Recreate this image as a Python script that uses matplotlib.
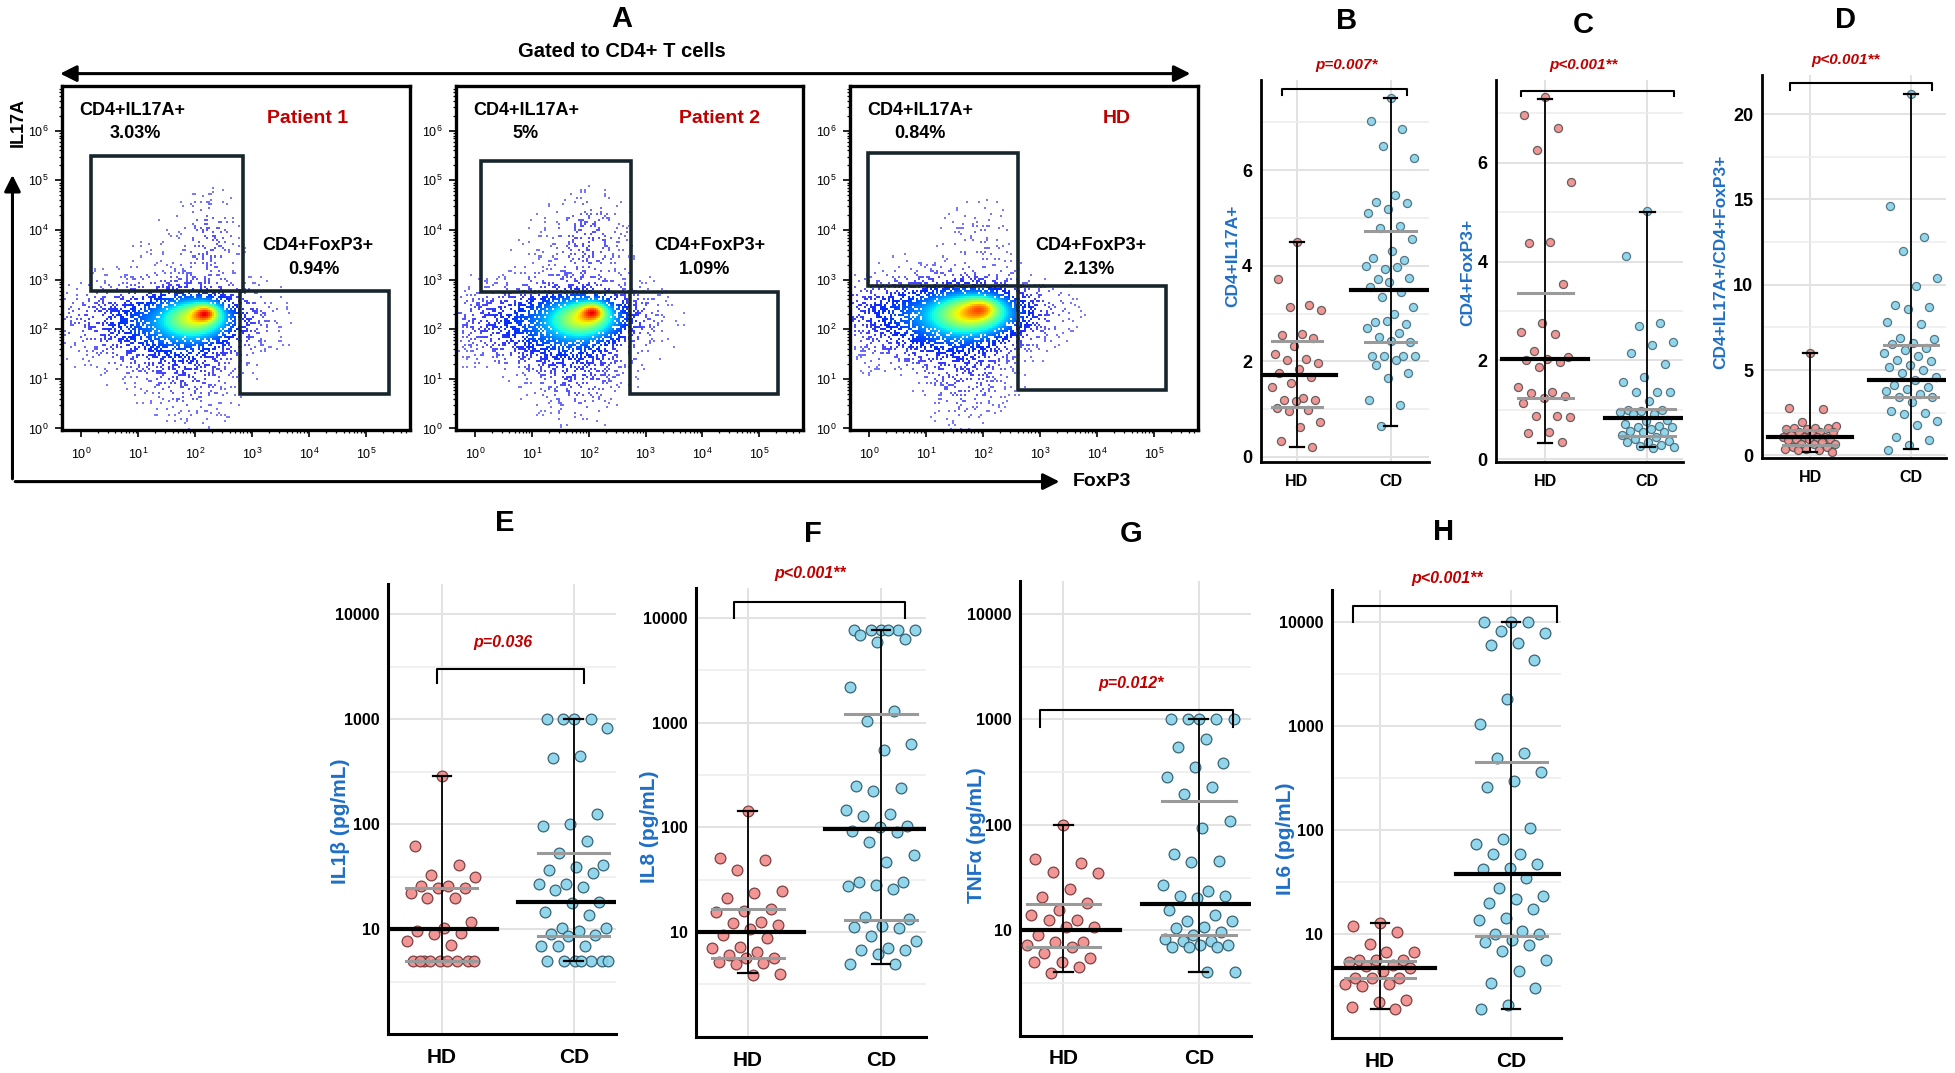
import numpy as np
import matplotlib
matplotlib.use("Agg")
import matplotlib.pyplot as plt
from matplotlib import font_manager
from matplotlib.patches import FancyArrowPatch, Rectangle
from matplotlib.ticker import NullFormatter

# ---------------------------------------------------------------- data
flow_names = ["Patient 1", "Patient 2", "HD"]
il17a_pct = ["3.03%", "5%", "0.84%"]
foxp3_pct = ["0.94%", "1.09%", "2.13%"]
# gates in log10 units (x0, x1, y0, y1)
il17a_gates = [(0.18, 2.83, 2.78, 5.50), (0.11, 2.74, 2.75, 5.40), (-0.02, 2.61, 2.88, 5.55)]
foxp3_gates = [(2.79, 5.39, 0.70, 2.78), (2.72, 5.33, 0.70, 2.75), (2.61, 5.20, 0.78, 2.88)]
# cell-cloud density components in log10 units (cx, cy, sx, sy, weight)
cloud_patient1 = [(2.20, 2.32, 0.15, 0.12, 0.35), (2.05, 2.22, 0.42, 0.28, 0.55),
                  (1.55, 2.05, 0.80, 0.50, 0.30), (1.90, 1.10, 0.45, 0.55, 0.08),
                  (0.50, 2.25, 0.60, 0.30, 0.05), (2.25, 3.80, 0.28, 0.50, 0.07),
                  (1.50, 3.70, 0.60, 0.50, 0.010), (3.00, 2.40, 0.35, 0.30, 0.02)]
cloud_patient2 = [(2.08, 2.35, 0.15, 0.12, 0.35), (1.95, 2.22, 0.42, 0.28, 0.55),
                  (1.45, 2.05, 0.80, 0.50, 0.30), (1.80, 1.10, 0.45, 0.55, 0.08),
                  (0.30, 2.25, 0.60, 0.30, 0.05), (2.00, 3.80, 0.38, 0.50, 0.08),
                  (1.30, 3.70, 0.60, 0.50, 0.010), (2.90, 2.40, 0.35, 0.30, 0.02)]
cloud_hd = [(2.00, 2.43, 0.20, 0.14, 0.20), (1.85, 2.32, 0.50, 0.30, 0.60),
            (1.30, 2.15, 0.85, 0.48, 0.32), (1.70, 1.10, 0.45, 0.55, 0.08),
            (0.20, 2.45, 0.60, 0.30, 0.07), (2.00, 3.80, 0.35, 0.50, 0.025),
            (1.50, 3.70, 0.60, 0.50, 0.006), (2.90, 2.40, 0.40, 0.30, 0.04)]
cloud_peak_colour = [0.80, 0.80, 0.72]
flow_x_ticks = [0, 1, 2, 3, 4, 5]
flow_y_ticks = [0, 1, 2, 3, 4, 5, 6]

groups = ["HD", "CD"]

b_hd = [4.50, 3.72, 3.18, 3.13, 3.07, 2.57, 2.54, 2.48, 2.32, 2.16, 2.04, 2.03, 1.97, 1.83,
        1.76, 1.67, 1.54, 1.47, 1.24, 1.20, 1.18, 1.16, 1.02, 0.98, 0.95, 0.72, 0.62, 0.34, 0.21]
b_cd = [7.51, 7.02, 6.86, 6.50, 6.26, 5.49, 5.33, 5.31, 5.19, 5.10, 4.84, 4.78, 4.56, 4.30,
        4.17, 4.11, 3.94, 4.00, 3.98, 3.73, 3.75, 3.66, 3.56, 3.44, 3.34, 3.13, 2.99, 2.82,
        2.78, 2.85, 2.69, 2.60, 2.50, 2.40, 2.42, 2.11, 2.12, 2.12, 2.11, 2.03, 1.92, 1.76,
        1.66, 1.19, 1.09, 0.65]
c_hd = [7.34, 6.96, 6.71, 6.26, 5.61, 4.39, 4.37, 3.55, 2.76, 2.57, 2.53, 2.18, 2.06, 2.03,
        2.00, 1.96, 1.86, 1.47, 1.37, 1.33, 1.27, 1.23, 1.13, 0.88, 0.87, 0.86, 0.55, 0.52, 0.35]
c_cd = [5.03, 4.12, 2.76, 2.70, 2.38, 2.31, 2.14, 1.92, 1.67, 1.57, 1.35, 1.35, 1.35, 1.18,
        1.00, 1.00, 0.98, 0.96, 0.92, 0.92, 0.80, 0.78, 0.71, 0.68, 0.65, 0.65, 0.62, 0.57,
        0.55, 0.55, 0.48, 0.45, 0.41, 0.37, 0.34, 0.34, 0.29, 0.27, 0.25, 0.22]
d_hd = [6.0, 2.75, 2.7, 1.95, 1.7, 1.6, 1.6, 1.6, 1.56, 1.56, 1.37, 1.37, 1.37, 1.27, 1.17,
        1.08, 1.08, 1.08, 1.08, 0.98, 0.98, 0.98, 0.88, 0.78, 0.68, 0.68, 0.68, 0.49, 0.49,
        0.39, 0.39, 0.29, 0.29, 0.2]
d_cd = [21.2, 14.6, 12.8, 12.0, 10.4, 9.9, 8.8, 8.7, 8.6, 7.8, 7.7, 6.9, 6.8, 6.6, 6.5, 6.3,
        6.2, 6.0, 5.8, 5.6, 5.5, 5.3, 5.2, 5.0, 4.8, 4.6, 4.4, 4.1, 4.0, 3.9, 3.8, 3.6, 3.4,
        3.4, 3.1, 2.6, 2.5, 2.4, 2.0, 1.8, 1.06, 0.9, 0.6, 0.3]
e_hd = [286, 62, 40.6, 33, 31.5, 26, 26, 25, 24.5, 22, 20, 19.7, 11.7, 10.4, 9.7, 9.3, 9.0,
        7.8, 7.1, 5, 5, 5, 5, 5, 5, 5, 5, 5]
e_cd = [1000, 1000, 1000, 1000, 828, 445, 430, 126, 100, 97, 70, 53, 41, 39, 37, 34.6, 27.3,
        27, 25.3, 23.7, 18.4, 17.9, 14.6, 13.8, 10.4, 10.4, 9.7, 9.1, 8.8, 8.6, 7.0, 6.9, 6.9,
        5, 5, 5, 5, 5, 5, 5]
f_hd = [143, 51, 49, 39.5, 24.9, 23.4, 21, 16.7, 15.9, 15.6, 12.4, 12.1, 11.6, 10.7, 9.4,
        8.8, 7.2, 7.1, 6.5, 6.1, 5.7, 5.7, 5.2, 5.1, 5.0, 4.0, 3.9]
f_cd = [7700, 7700, 7700, 7700, 7700, 7700, 6900, 6300, 5900, 2170, 1280, 1035, 630, 550,
        249, 237, 223, 146, 134, 129, 104, 100, 92, 90, 73, 54, 47, 30, 30, 28, 27.5, 26, 14,
        13.2, 11.5, 11.3, 11, 9.2, 8.3, 7.0, 6.7, 6.7, 6.2, 5.0, 5.0]
g_hd = [100, 47, 43, 36, 35, 24.8, 20.6, 18, 15.7, 13.9, 12.6, 12.6, 10.7, 10.7, 9.1, 7.8,
        7.8, 7.3, 7.0, 6.1, 5.4, 5.0, 5.0, 4.5, 3.9]
g_cd = [1000, 1000, 1000, 1000, 1000, 656, 545, 385, 357, 283, 230, 195, 109, 93, 52.5, 45,
        44, 27, 23.7, 21, 21, 20.2, 15.5, 13.9, 12.3, 12.3, 10.7, 10.5, 9.7, 9.1, 8.3, 7.9,
        7.9, 7.3, 7.2, 6.9, 6.9, 6.9, 4.0, 4.0]
h_hd = [12.7, 12.1, 10.5, 8.1, 6.8, 6.8, 5.7, 5.7, 5.6, 5.4, 5.0, 4.9, 4.7, 4.4, 3.8, 3.8,
        3.8, 3.3, 3.3, 3.2, 2.3, 2.2, 2.0, 1.9]
h_cd = [10000, 10000, 10000, 8260, 7870, 6300, 6000, 4310, 1820, 1060, 553, 493, 360, 297,
        262, 106, 82, 74, 59, 59, 47, 43, 42, 34.6, 28, 23.2, 21.9, 19.9, 17.4, 14.4, 13.7,
        10.8, 10, 10, 8.7, 8.4, 7.9, 6.9, 5.6, 4.4, 3.4, 3.0, 2.1, 1.9]

# summary lines: median, lower grey, upper grey, whisker low, whisker high
b_hd_stats = [1.72, 1.05, 2.42, 0.20, 4.50]
b_cd_stats = [3.50, 2.40, 4.72, 0.65, 7.50]
c_hd_stats = [2.02, 1.24, 3.36, 0.33, 7.30]
c_cd_stats = [0.84, 0.47, 1.02, 0.24, 5.00]
d_hd_stats = [1.08, 0.60, 1.50, 0.20, 6.00]
d_cd_stats = [4.40, 3.40, 6.45, 0.35, 21.2]
e_hd_stats = [10.0, 5.0, 24.9, 5.0, 286]
e_cd_stats = [18.2, 8.6, 53.0, 5.0, 1000]
f_hd_stats = [10.0, 5.7, 16.6, 4.1, 143]
f_cd_stats = [96.0, 13.0, 1200, 5.0, 7700]
g_hd_stats = [10.0, 6.9, 17.9, 4.0, 100]
g_cd_stats = [17.9, 9.0, 169, 4.0, 1000]
h_hd_stats = [4.7, 3.8, 5.5, 1.9, 12.7]
h_cd_stats = [38.0, 9.5, 457, 1.9, 10000]

p_values = ["p=0.007*", "p<0.001**", "p<0.001**", "p=0.036", "p<0.001**", "p=0.012*", "p<0.001**"]
y_titles = ["CD4+IL17A+", "CD4+FoxP3+", "CD4+IL17A+/CD4+FoxP3+",
            "IL1β (pg/mL)", "IL8 (pg/mL)", "TNFα (pg/mL)", "IL6 (pg/mL)"]
lin_ticks_bc = [0, 2, 4, 6]
lin_ticks_d = [0, 5, 10, 15, 20]
log_ticks = [10, 100, 1000, 10000]
log_tick_labels = ["10", "100", "1000", "10000"]

# ---------------------------------------------------------------- style / layout
names = {f.name for f in font_manager.fontManager.ttflist}
BASE = "Liberation Sans" if "Liberation Sans" in names else "DejaVu Sans"
plt.rcParams["font.family"] = [BASE, "DejaVu Sans"]
plt.rcParams["mathtext.fontset"] = "custom"
plt.rcParams["mathtext.rm"] = BASE

RED = "#c00000"
LBLUE = "#1f6fc5"
PW, PH = 1568.0, 860.0


def fx(x):
    return x / PW


def fy(y):
    return 1 - y / PH


def box(l, r, t, b):
    return [l / PW, 1 - b / PH, (r - l) / PW, (b - t) / PH]


fig = plt.figure(figsize=(19.55, 10.73), dpi=100)
fig.patch.set_facecolor("white")


def farrow(p0, p1, style):
    a = FancyArrowPatch((fx(p0[0]), fy(p0[1])), (fx(p1[0]), fy(p1[1])),
                        transform=fig.transFigure, arrowstyle=style,
                        mutation_scale=14, lw=2.2, color="black")
    fig.add_artist(a)


# ---------------------------------------------------------------- panel A
fig.text(fx(499), fy(15), "A", ha="center", va="center", fontsize=21, fontweight="bold")
fig.text(fx(499), fy(41), "Gated to CD4+ T cells", ha="center", va="center",
         fontsize=14.5, fontweight="bold")
farrow((46, 59), (957, 59), "<|-|>,head_length=0.7,head_width=0.35")
farrow((10, 386), (10, 138), "-|>,head_length=0.7,head_width=0.35")
farrow((10, 386), (852, 386), "-|>,head_length=0.7,head_width=0.35")
fig.text(fx(15), fy(98), "IL17A", ha="center", va="center", rotation=90,
         fontsize=13, fontweight="bold")
fig.text(fx(884), fy(386), "FoxP3", ha="center", va="center", fontsize=14, fontweight="bold")

flow_boxes = [(50, 329), (366, 644), (682, 961)]
flow_clouds = [cloud_patient1, cloud_patient2, cloud_hd]
title_x = [0.706, 0.76, 0.767]
pct_x = [0.21, 0.20, 0.20]
fox_x = [0.735, 0.73, 0.69]
foxpct_x = [0.724, 0.717, 0.685]
XL, YL = (-0.33, 5.77), (-0.04, 6.9)

for k in range(3):
    l, r = flow_boxes[k]
    ax = fig.add_axes(box(l, r, 69, 345))
    nx, ny = 174, 172
    xs = np.linspace(XL[0], XL[1], nx)
    ys = np.linspace(YL[0], YL[1], ny)
    X, Y = np.meshgrid(xs, ys)
    D = np.zeros_like(X)
    for cx, cy, sx, sy, w in flow_clouds[k]:
        D += w * np.exp(-0.5 * (((X - cx) / sx) ** 2 + ((Y - cy) / sy) ** 2))
    D /= D.max()
    I, J = np.meshgrid(np.arange(nx), np.arange(ny))
    # deterministic hash dither pattern (texture only)
    thr = np.mod(np.sin(I * 12.9898 + J * 78.233 + k * 3.1) * 43758.5453, 1.0)
    prob = np.clip(D / 0.5, 0, 1) ** 0.8
    on = (prob > thr) & (D > 0.006)
    col = plt.get_cmap("jet")(0.11 + cloud_peak_colour[k] * D ** 1.6)
    alpha = 0.5 + 0.5 * np.clip(D / 0.2, 0, 1)
    col[..., 3] = np.where(on, alpha, 0.0)
    ax.imshow(col, extent=(XL[0], XL[1], YL[0], YL[1]), origin="lower", aspect="auto",
              interpolation="nearest", zorder=1)
    ax.set_xlim(XL)
    ax.set_ylim(YL)
    for g in (il17a_gates[k], foxp3_gates[k]):
        ax.add_patch(Rectangle((g[0], g[2]), g[1] - g[0], g[3] - g[2], fill=False,
                               lw=2.6, ec="#17262c", zorder=3))
    for s in ax.spines.values():
        s.set_linewidth(2.4)
        s.set_color("black")
    ax.set_xticks(flow_x_ticks)
    ax.set_xticklabels([r"$\mathregular{10^{%d}}$" % v for v in flow_x_ticks])
    ax.set_yticks(flow_y_ticks)
    ax.set_yticklabels([r"$\mathregular{10^{%d}}$" % v for v in flow_y_ticks])
    mx = [d + np.log10(m) for d in range(0, 6) for m in range(2, 10) if d + np.log10(m) < XL[1]]
    my = [d + np.log10(m) for d in range(0, 7) for m in range(2, 10) if d + np.log10(m) < YL[1]]
    ax.set_xticks(mx, minor=True)
    ax.set_yticks(my, minor=True)
    ax.tick_params(which="major", direction="out", length=5, width=1.2, labelsize=9, pad=5)
    ax.tick_params(which="minor", direction="out", length=2.5, width=0.9)
    ax.tick_params(axis="x", which="major", pad=7)
    ax.text(0.05, 0.93, "CD4+IL17A+", transform=ax.transAxes, ha="left", va="center",
            fontsize=13, fontweight="bold")
    ax.text(pct_x[k], 0.862, il17a_pct[k], transform=ax.transAxes, ha="center", va="center",
            fontsize=13, fontweight="bold")
    ax.text(title_x[k], 0.905, flow_names[k], transform=ax.transAxes, ha="center", va="center",
            fontsize=14, fontweight="bold", color=RED)
    ax.text(fox_x[k], 0.536, "CD4+FoxP3+", transform=ax.transAxes, ha="center", va="center",
            fontsize=13, fontweight="bold")
    ax.text(foxpct_x[k], 0.467, foxp3_pct[k], transform=ax.transAxes, ha="center", va="center",
            fontsize=13, fontweight="bold")

# ---------------------------------------------------------------- dot panels
HD_FC, HD_EC = "#f08a8a", "#6e3434"
CD_FC, CD_EC = "#86d2ea", "#2c5666"
PHI = 0.6180339887

panels = [
    dict(letter="B", data=(b_hd, b_cd), st=(b_hd_stats, b_cd_stats), box=(1011, 1146, 64, 370),
         xlim=(0.61, 2.41), ylim=(-0.1, 7.89), log=False, yt=lin_ticks_bc, ytl=None,
         ymin=[1, 3, 5, 7], lpos=(1080, 17), ppos=(1080, 52), ylab=(989, 205),
         br=(0.84, 2.18, 7.70, 7.58), ms=34, small=True),
    dict(letter="C", data=(c_hd, c_cd), st=(c_hd_stats, c_cd_stats), box=(1200, 1350, 64, 370),
         xlim=(0.52, 2.35), ylim=(-0.05, 7.68), log=False, yt=lin_ticks_bc, ytl=None,
         ymin=[1, 3, 5, 7], lpos=(1270, 20), ppos=(1270, 52), ylab=(1177, 218),
         br=(0.76, 2.26, 7.46, 7.36), ms=34, small=True),
    dict(letter="D", data=(d_hd, d_cd), st=(d_hd_stats, d_cd_stats), box=(1413, 1561, 60, 367),
         xlim=(0.52, 2.35), ylim=(-0.15, 22.3), log=False, yt=lin_ticks_d, ytl=None,
         ymin=[2.5, 7.5, 12.5, 17.5], lpos=(1480, 16), ppos=(1480, 48), ylab=(1380, 210),
         br=(0.80, 2.21, 21.8, 21.4), ms=34, small=True),
    dict(letter="E", data=(e_hd, e_cd), st=(e_hd_stats, e_cd_stats), box=(311, 494, 468, 829),
         xlim=(0.59, 2.32), ylim=(1, 19500), log=True, yt=log_ticks, ytl=log_tick_labels,
         ymin=[3.162, 31.62, 316.2, 3162], lpos=(405, 419), ppos=(403, 515), ylab=(273, 658),
         br=(0.96, 2.08, 3000, 2200), ms=60, small=False),
    dict(letter="F", data=(f_hd, f_cd), st=(f_hd_stats, f_cd_stats), box=(558, 743, 471, 831),
         xlim=(0.61, 2.34), ylim=(1, 19500), log=True, yt=log_ticks, ytl=log_tick_labels,
         ymin=[3.162, 31.62, 316.2, 3162], lpos=(652, 428), ppos=(650, 460), ylab=(521, 663),
         br=(0.90, 2.18, 14100, 10000), ms=60, small=False),
    dict(letter="G", data=(g_hd, g_cd), st=(g_hd_stats, g_cd_stats), box=(818, 1003, 466, 830),
         xlim=(0.68, 2.38), ylim=(1, 20400), log=True, yt=log_ticks, ytl=log_tick_labels,
         ymin=[3.162, 31.62, 316.2, 3162], lpos=(907, 428), ppos=(907, 548), ylab=(783, 669),
         br=(0.83, 2.25, 1230, 850), ms=60, small=False),
    dict(letter="H", data=(h_hd, h_cd), st=(h_hd_stats, h_cd_stats), box=(1068, 1252, 473, 832),
         xlim=(0.63, 2.38), ylim=(1, 20400), log=True, yt=log_ticks, ytl=log_tick_labels,
         ymin=[3.162, 31.62, 316.2, 3162], lpos=(1158, 426), ppos=(1161, 464), ylab=(1031, 672),
         br=(0.79, 2.35, 14400, 10000), ms=60, small=False),
]

for n, pn in enumerate(panels):
    ax = fig.add_axes(box(*pn["box"]))
    if pn["log"]:
        ax.set_yscale("log")
    ax.set_xlim(pn["xlim"])
    ax.set_ylim(pn["ylim"])
    ax.set_yticks(pn["yt"])
    if pn["ytl"] is not None:
        ax.set_yticklabels(pn["ytl"])
    ax.set_yticks(pn["ymin"], minor=True)
    ax.yaxis.set_minor_formatter(NullFormatter())
    ax.set_xticks([1, 2])
    ax.set_xticklabels(groups)
    ax.set_axisbelow(True)
    ax.grid(True, which="major", color="#e2e2e2", lw=1.4)
    ax.grid(True, which="minor", axis="y", color="#ececec", lw=1.1)
    for side in ("top", "right"):
        ax.spines[side].set_visible(False)
    for side in ("left", "bottom"):
        ax.spines[side].set_linewidth(2.0 if pn["small"] else 2.2)
        ax.spines[side].set_color("black")
    small = pn["small"]
    ax.tick_params(length=0, which="both")
    ax.tick_params(axis="y", labelsize=13 if small else 11.5, pad=6)
    ax.tick_params(axis="x", labelsize=11.5 if small else 15, pad=9 if small else 10)
    for lab in ax.get_xticklabels() + ax.get_yticklabels():
        lab.set_fontweight("bold")

    jw = 0.27
    for gi, (vals, st) in enumerate(zip(pn["data"], pn["st"])):
        xc = gi + 1
        v = np.asarray(vals, dtype=float)
        jit = (np.mod(np.arange(len(v)) * PHI + 0.5, 1.0) - 0.5) * 2 * jw
        fc, ec = (HD_FC, HD_EC) if gi == 0 else (CD_FC, CD_EC)
        if small:
            ec = "#555555" if gi == 0 else "#4a6a78"
        ax.scatter(xc + jit, v, s=pn["ms"], facecolor=fc, edgecolor=ec,
                   linewidth=0.9, alpha=0.9, zorder=3)
        med, q1, q3, lo, hi = st
        ax.plot([xc, xc], [lo, hi], color="black", lw=1.3, zorder=4)
        for yv in (lo, hi):
            ax.plot([xc - 0.07, xc + 0.07], [yv, yv], color="black", lw=1.6, zorder=4)
        for yv in (q1, q3):
            ax.plot([xc - 0.27, xc + 0.27], [yv, yv], color="#9a9a9a", lw=2.2, zorder=4)
        ax.plot([xc - 0.42, xc + 0.42], [med, med], color="black", lw=3.0, zorder=5)

    x0, x1, yt_, yl_ = pn["br"]
    ax.plot([x0, x0, x1, x1], [yl_, yt_, yt_, yl_], color="black", lw=1.5, clip_on=False,
            zorder=6)
    fig.text(fx(pn["ppos"][0]), fy(pn["ppos"][1]), p_values[n], ha="center", va="center",
             fontsize=11 if small else 11.5, fontweight="bold", style="italic", color=RED)
    fig.text(fx(pn["lpos"][0]), fy(pn["lpos"][1]), pn["letter"], ha="center", va="center",
             fontsize=21, fontweight="bold")
    fig.text(fx(pn["ylab"][0]), fy(pn["ylab"][1]), y_titles[n], ha="center", va="center",
             rotation=90, fontsize=12.5 if small else 15, fontweight="bold", color=LBLUE)

fig.savefig("out.png", dpi=100, facecolor="white")
